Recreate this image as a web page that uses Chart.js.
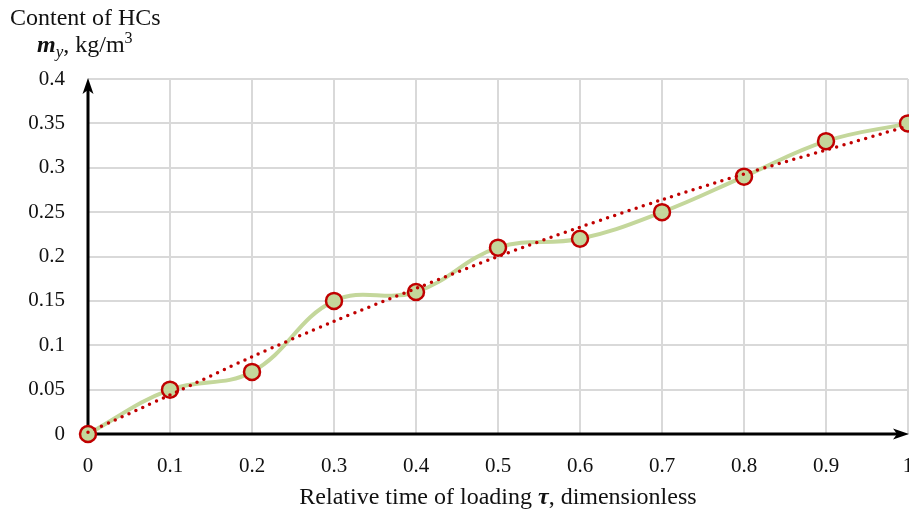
<!DOCTYPE html>
<html>
<head>
<meta charset="utf-8">
<script src="https://cdn.jsdelivr.net/npm/chart.js@4.4.1/dist/chart.umd.min.js"></script>
<style>
    body { margin: 0; background: #fff; }
    #wrap { position: relative; width: 909px; height: 515px; overflow: hidden; }
    .lbl { position: absolute; font-family: "Liberation Serif", "DejaVu Serif", serif; font-size: 24px; color: #111; white-space: nowrap; line-height: 28px; }
    #yTitle1 { left: 10px; top: 3px; }
    #yTitle2 { left: 37px; top: 30px; }
    #xTitle { left: 88px; width: 820px; top: 482px; text-align: center; }
    .bi { font-weight: bold; font-style: italic; }
    sub { font-style: italic; font-size: 17px; vertical-align: -5px; line-height: 0; }
    sup { font-size: 16px; vertical-align: 9px; line-height: 0; }
</style>
</head>
<body>
<div id="wrap">
    <canvas id="hcChart" width="909" height="515"></canvas>
    <div class="lbl" id="yTitle1">Content of HCs</div>
    <div class="lbl" id="yTitle2"><span class="bi">m</span><sub>y</sub>, kg/m<sup>3</sup></div>
    <div class="lbl" id="xTitle">Relative time of loading <span class="bi">τ</span>, dimensionless</div>
</div>
<script>
// Data
const loadTime = [0, 0.1, 0.2, 0.3, 0.4, 0.5, 0.6, 0.7, 0.8, 0.9, 1];
const hcContent = [0, 0.05, 0.07, 0.15, 0.16, 0.21, 0.22, 0.25, 0.29, 0.33, 0.35];
const trendContent = [0.002, 0.044, 0.087, 0.127, 0.164, 0.2, 0.233, 0.264, 0.293, 0.32, 0.347];

const xTicks = [0, 0.1, 0.2, 0.3, 0.4, 0.5, 0.6, 0.7, 0.8, 0.9, 1];
const xTickLabels = ["0", "0.1", "0.2", "0.3", "0.4", "0.5", "0.6", "0.7", "0.8", "0.9", "1"];
const yTicks = [0, 0.05, 0.1, 0.15, 0.2, 0.25, 0.3, 0.35, 0.4];
const yTickLabels = ["0", "0.05", "0.1", "0.15", "0.2", "0.25", "0.3", "0.35", "0.4"];

const FONT = "'Liberation Serif', 'DejaVu Serif', serif";

// Black axes with arrow heads, drawn under the markers
const axisArrows = {
    id: 'axisArrows',
    beforeDatasetsDraw(chart) {
        const { ctx, chartArea: a } = chart;
        ctx.save();
        ctx.strokeStyle = '#000';
        ctx.fillStyle = '#000';
        ctx.lineWidth = 3;
        ctx.beginPath();
        ctx.moveTo(a.left, a.bottom);
        ctx.lineTo(a.left, a.top + 10);
        ctx.moveTo(a.left - 1.5, a.bottom);
        ctx.lineTo(a.right - 10, a.bottom);
        ctx.stroke();

        // up arrow
        ctx.beginPath();
        ctx.moveTo(a.left, a.top - 1);
        ctx.lineTo(a.left + 5.5, a.top + 15);
        ctx.lineTo(a.left, a.top + 11);
        ctx.lineTo(a.left - 5.5, a.top + 15);
        ctx.closePath();
        ctx.fill();

        // right arrow
        ctx.beginPath();
        ctx.moveTo(a.right + 1, a.bottom);
        ctx.lineTo(a.right - 15, a.bottom - 5.5);
        ctx.lineTo(a.right - 11, a.bottom);
        ctx.lineTo(a.right - 15, a.bottom + 5.5);
        ctx.closePath();
        ctx.fill();
        ctx.restore();
    }
};

function toPoints(xs, ys) {
    return xs.map((x, i) => ({ x, y: ys[i] }));
}

const ctx = document.getElementById('hcChart').getContext('2d');
new Chart(ctx, {
    type: 'line',
    data: {
        datasets: [
            {
                label: 'Trend',
                data: toPoints(loadTime, trendContent),
                borderColor: '#c00000',
                borderWidth: 3.5,
                borderDash: [0, 7.5],
                borderCapStyle: 'round',
                pointRadius: 0,
                tension: 0.3,
                fill: false,
                clip: false,
                order: 0
            },
            {
                label: 'Content of HCs',
                data: toPoints(loadTime, hcContent),
                borderColor: '#c4d79b',
                borderWidth: 4,
                backgroundColor: '#c4d79b',
                pointRadius: 8,
                pointBorderWidth: 2.5,
                pointBorderColor: '#c00000',
                pointBackgroundColor: '#c4d79b',
                tension: 0.4,
                fill: false,
                clip: false,
                order: 1
            }
        ]
    },
    options: {
        responsive: false,
        animation: false,
        devicePixelRatio: 1,
        layout: { autoPadding: false, padding: { top: 79, right: 1, left: 0, bottom: 0 } },
        plugins: {
            legend: { display: false },
            tooltip: { enabled: false }
        },
        scales: {
            x: {
                type: 'linear',
                min: 0,
                max: 1,
                afterBuildTicks: scale => { scale.ticks = xTicks.map(v => ({ value: v })); },
                afterFit: scale => {
                    scale.height = 81;
                    scale.paddingLeft = 0;
                    scale.paddingRight = 0;
                },
                ticks: {
                    autoSkip: false,
                    maxRotation: 0,
                    padding: 20,
                    color: '#111',
                    font: { family: FONT, size: 21 },
                    callback: (v, i) => xTickLabels[i]
                },
                grid: { color: '#d9d9d9', lineWidth: 2, drawTicks: false },
                border: { display: false }
            },
            y: {
                type: 'linear',
                min: 0,
                max: 0.4,
                afterBuildTicks: scale => { scale.ticks = yTicks.map(v => ({ value: v })); },
                afterFit: scale => {
                    scale.width = 88;
                    scale.paddingTop = 0;
                    scale.paddingBottom = 0;
                },
                ticks: {
                    autoSkip: false,
                    padding: 23,
                    color: '#111',
                    font: { family: FONT, size: 21 },
                    callback: (v, i) => yTickLabels[i]
                },
                grid: { color: '#d9d9d9', lineWidth: 2, drawTicks: false },
                border: { display: false }
            }
        }
    },
    plugins: [axisArrows]
});
</script>
</body>
</html>
